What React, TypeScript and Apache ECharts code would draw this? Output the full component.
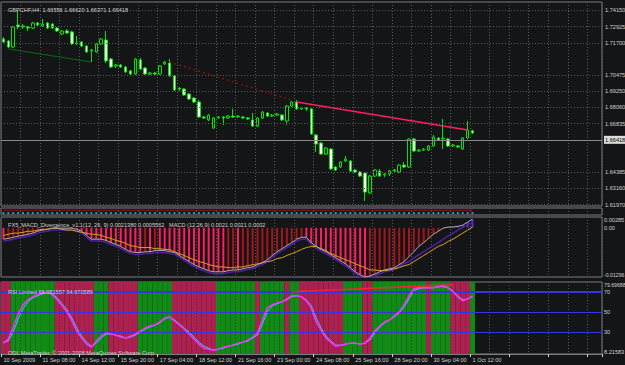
import React, { useEffect, useRef } from 'react';
import * as echarts from 'echarts';

const SYMBOL = 'GBPCHF,H4';

// [open, close, low, high] for each H4 bar
const candles: number[][] = [
  [1.7223, 1.7205, 1.7199, 1.7235], [1.7211, 1.7174, 1.7168, 1.7217], [1.7174, 1.7298, 1.7168, 1.7304], [1.7310, 1.7298, 1.7285, 1.7397], [1.7304, 1.7298, 1.7285, 1.7316],
  [1.7298, 1.7291, 1.7273, 1.7304], [1.7291, 1.7322, 1.7285, 1.7329], [1.7322, 1.7310, 1.7304, 1.7329], [1.7304, 1.7316, 1.7298, 1.7347], [1.7322, 1.7291, 1.7285, 1.7329],
  [1.7316, 1.7291, 1.7285, 1.7322], [1.7291, 1.7273, 1.7267, 1.7298], [1.7254, 1.7273, 1.7248, 1.7279], [1.7273, 1.7261, 1.7254, 1.7285], [1.7267, 1.7193, 1.7186, 1.7273],
  [1.7193, 1.7199, 1.7186, 1.7242], [1.7205, 1.7180, 1.7174, 1.7211], [1.7180, 1.7143, 1.7137, 1.7186], [1.7149, 1.7155, 1.7081, 1.7162], [1.7143, 1.7193, 1.7137, 1.7199],
  [1.7193, 1.7223, 1.7186, 1.7229], [1.7217, 1.7088, 1.7075, 1.7273], [1.7100, 1.7050, 1.7044, 1.7106], [1.7057, 1.7063, 1.7044, 1.7069], [1.7063, 1.7050, 1.7044, 1.7069],
  [1.7050, 1.7020, 1.7013, 1.7057], [1.7026, 1.7007, 1.7001, 1.7032], [1.7007, 1.7100, 1.7001, 1.7106], [1.7094, 1.7038, 1.7032, 1.7106], [1.7044, 1.7007, 1.7001, 1.7050],
  [1.7007, 1.7013, 1.7001, 1.7020], [1.7013, 1.7007, 1.7001, 1.7020], [1.7007, 1.7057, 1.7001, 1.7063], [1.7069, 1.7081, 1.7063, 1.7088], [1.7075, 1.6995, 1.6988, 1.7100],
  [1.6995, 1.6908, 1.6902, 1.7001], [1.6920, 1.6914, 1.6902, 1.6926], [1.6914, 1.6877, 1.6871, 1.6920], [1.6883, 1.6852, 1.6846, 1.6889], [1.6858, 1.6834, 1.6828, 1.6865],
  [1.6834, 1.6741, 1.6735, 1.6846], [1.6741, 1.6735, 1.6729, 1.6747], [1.6723, 1.6753, 1.6716, 1.6760], [1.6673, 1.6735, 1.6667, 1.6741], [1.6735, 1.6741, 1.6729, 1.6747],
  [1.6741, 1.6735, 1.6692, 1.6747], [1.6735, 1.6747, 1.6729, 1.6753], [1.6747, 1.6741, 1.6735, 1.6791], [1.6741, 1.6747, 1.6735, 1.6753], [1.6741, 1.6735, 1.6729, 1.6747],
  [1.6735, 1.6729, 1.6723, 1.6741], [1.6723, 1.6685, 1.6679, 1.6766], [1.6685, 1.6735, 1.6679, 1.6741], [1.6735, 1.6772, 1.6729, 1.6779], [1.6766, 1.6747, 1.6741, 1.6772],
  [1.6747, 1.6753, 1.6741, 1.6760], [1.6753, 1.6760, 1.6747, 1.6766], [1.6753, 1.6723, 1.6716, 1.6760], [1.6716, 1.6809, 1.6692, 1.6815], [1.6809, 1.6834, 1.6803, 1.6840],
  [1.6834, 1.6791, 1.6785, 1.6846], [1.6791, 1.6797, 1.6785, 1.6803], [1.6797, 1.6791, 1.6779, 1.6803], [1.6791, 1.6636, 1.6630, 1.6797], [1.6630, 1.6574, 1.6525, 1.6636],
  [1.6580, 1.6512, 1.6506, 1.6587], [1.6512, 1.6549, 1.6506, 1.6556], [1.6543, 1.6420, 1.6413, 1.6549], [1.6432, 1.6413, 1.6407, 1.6438], [1.6432, 1.6463, 1.6426, 1.6469],
  [1.6469, 1.6481, 1.6463, 1.6500], [1.6469, 1.6407, 1.6401, 1.6475], [1.6413, 1.6401, 1.6395, 1.6420], [1.6401, 1.6376, 1.6370, 1.6407], [1.6395, 1.6277, 1.6222, 1.6401],
  [1.6271, 1.6376, 1.6265, 1.6383], [1.6376, 1.6413, 1.6370, 1.6420], [1.6407, 1.6376, 1.6370, 1.6420], [1.6383, 1.6389, 1.6370, 1.6395], [1.6389, 1.6407, 1.6376, 1.6413],
  [1.6407, 1.6413, 1.6401, 1.6420], [1.6401, 1.6444, 1.6395, 1.6450], [1.6444, 1.6432, 1.6426, 1.6463], [1.6432, 1.6605, 1.6426, 1.6611], [1.6605, 1.6531, 1.6525, 1.6611],
  [1.6531, 1.6537, 1.6525, 1.6543], [1.6537, 1.6543, 1.6531, 1.6549], [1.6537, 1.6562, 1.6531, 1.6568], [1.6562, 1.6617, 1.6556, 1.6630], [1.6611, 1.6599, 1.6593, 1.6617],
  [1.6605, 1.6611, 1.6543, 1.6729], [1.6605, 1.6562, 1.6556, 1.6611], [1.6562, 1.6568, 1.6556, 1.6574], [1.6562, 1.6556, 1.6549, 1.6568], [1.6543, 1.6611, 1.6537, 1.6617],
  [1.6611, 1.6661, 1.6605, 1.6716], [1.66556, 1.66418, 1.66371, 1.66620],
];

const priceTicks = [1.7415, 1.72925, 1.717, 1.70475, 1.6925, 1.6806, 1.66835, 1.6561, 1.64385, 1.6316, 1.6197];
const priceTickLabels = ['1.74150', '1.72925', '1.71700', '1.70475', '1.69250', '1.68060', '1.66835', '1.65610', '1.64385', '1.63160', '1.61970'];
const currentPrice = 1.66418;

const greenTrend = [[1, 1.7162], [18, 1.7081]];
const redDottedTrend = [[34, 1.7081], [59, 1.6846]];
const pinkTrend = [[60, 1.6834], [95, 1.6661]];

const xLabels = ['10 Sep 2009', '11 Sep 08:00', '14 Sep 12:00', '15 Sep 20:00', '17 Sep 04:00', '18 Sep 12:00', '21 Sep 16:00', '23 Sep 00:00', '24 Sep 08:00', '25 Sep 16:00', '28 Sep 20:00', '30 Sep 04:00', '1 Oct 12:00'];

const macdMain = [
  -0.0030, -0.0028, -0.0025, -0.0022, -0.0020, -0.0017, -0.0014, -0.0009, -0.0006, -0.0004,
  -0.0001, -0.0001, -0.0001, -0.0001, -0.0001, -0.0004, -0.0009, -0.0020, -0.0030, -0.0030,
  -0.0030, -0.0033, -0.0039, -0.0044, -0.0049, -0.0057, -0.0063, -0.0065, -0.0065, -0.0063,
  -0.0063, -0.0060, -0.0060, -0.0060, -0.0063, -0.0065, -0.0073, -0.0081, -0.0089, -0.0097,
  -0.0103, -0.0108, -0.0113, -0.0116, -0.0116, -0.0116, -0.0113, -0.0111, -0.0111, -0.0108,
  -0.0105, -0.0103, -0.0097, -0.0092, -0.0084, -0.0073, -0.0063, -0.0055, -0.0047, -0.0039,
  -0.0030, -0.0025, -0.0025, -0.0039, -0.0049, -0.0057, -0.0063, -0.0071, -0.0079, -0.0087,
  -0.0095, -0.0105, -0.0116, -0.0124, -0.0130, -0.0127, -0.0122, -0.0116, -0.0111, -0.0108,
  -0.0105, -0.0097, -0.0089, -0.0076, -0.0063, -0.0049, -0.0039, -0.0028, -0.0017, -0.0009,
  -0.0001, 0.0002, 0.0002, 0.0004, 0.0007, 0.0015, 0.0023,
];
const macdSignal = [
  -0.0020, -0.0017, -0.0014, -0.0014, -0.0012, -0.0009, -0.0009, -0.0006, -0.0004, -0.0004,
  -0.0001, -0.0001, -0.0004, -0.0006, -0.0006, -0.0009, -0.0012, -0.0014, -0.0017, -0.0017,
  -0.0020, -0.0025, -0.0028, -0.0033, -0.0036, -0.0041, -0.0047, -0.0049, -0.0052, -0.0052,
  -0.0052, -0.0055, -0.0055, -0.0057, -0.0057, -0.0063, -0.0068, -0.0073, -0.0079, -0.0084,
  -0.0089, -0.0092, -0.0097, -0.0100, -0.0103, -0.0103, -0.0105, -0.0105, -0.0103, -0.0103,
  -0.0100, -0.0097, -0.0095, -0.0092, -0.0089, -0.0087, -0.0081, -0.0079, -0.0073, -0.0068,
  -0.0063, -0.0057, -0.0052, -0.0049, -0.0049, -0.0055, -0.0060, -0.0068, -0.0073, -0.0079,
  -0.0084, -0.0089, -0.0095, -0.0100, -0.0105, -0.0111, -0.0111, -0.0113, -0.0113, -0.0111,
  -0.0108, -0.0105, -0.0100, -0.0097, -0.0089, -0.0081, -0.0073, -0.0065, -0.0057, -0.0049,
  -0.0044, -0.0036, -0.0030, -0.0022, -0.0014, -0.0006, 0.0002,
];
const macdSlow = [
  -0.0035, -0.0033, -0.0030, -0.0027, -0.0025, -0.0022, -0.0019, -0.0014, -0.0011, -0.0009,
  -0.0006, -0.0006, -0.0006, -0.0006, -0.0006, -0.0009, -0.0014, -0.0025, -0.0035, -0.0035,
  -0.0035, -0.0038, -0.0044, -0.0049, -0.0054, -0.0062, -0.0068, -0.0070, -0.0070, -0.0068,
  -0.0068, -0.0065, -0.0065, -0.0065, -0.0068, -0.0070, -0.0078, -0.0086, -0.0094, -0.0102,
  -0.0108, -0.0113, -0.0118, -0.0121, -0.0121, -0.0121, -0.0118, -0.0116, -0.0116, -0.0113,
  -0.0110, -0.0108, -0.0102, -0.0097, -0.0089, -0.0078, -0.0068, -0.0060, -0.0052, -0.0044,
  -0.0035, -0.0030, -0.0030, -0.0044, -0.0054, -0.0062, -0.0068, -0.0076, -0.0084, -0.0092,
  -0.0100, -0.0110, -0.0121, -0.0129, -0.0135, -0.0132, -0.0127, -0.0121, -0.0116, -0.0113,
  -0.0110, -0.0102, -0.0094, -0.0089, -0.0079, -0.0071, -0.0063, -0.0055, -0.0047, -0.0039,
  -0.0030, -0.0022, -0.0014, -0.0006, 0.0002, 0.0007, 0.0015,
];
const macdTicks = [0.00285, 0, -0.01296];
const macdTickLabels = ['0.00285', '0.00', '-0.01296'];

const rsiMain = [
  19, 23, 35, 48, 57, 62, 65, 67, 69, 70,
  67, 62, 56, 50, 41, 31, 24, 18, 15, 21,
  26, 29, 28, 27, 25, 24, 26, 28, 31, 34,
  36, 37, 40, 44, 45, 41, 37, 33, 28, 23,
  18, 14, 13, 12, 13, 15, 16, 17, 19, 20,
  22, 25, 29, 42, 54, 57, 59, 60, 63, 66,
  66, 65, 61, 54, 40, 32, 24, 20, 16, 17,
  18, 19, 19, 18, 19, 24, 31, 36, 40, 42,
  46, 50, 57, 66, 73, 74, 74, 74, 74, 75,
  76, 74, 70, 65, 61, 63, 66,
];
const rsiSignal = [
  20, 21, 30, 43, 53, 60, 64, 66, 68, 69,
  68, 64, 58, 52, 44, 34, 26, 20, 16, 19,
  24, 28, 28, 27, 26, 24, 25, 27, 30, 33,
  35, 37, 39, 43, 45, 42, 38, 34, 30, 25,
  20, 16, 14, 12, 13, 14, 16, 17, 18, 20,
  21, 24, 27, 38, 50, 56, 58, 60, 62, 65,
  66, 65, 62, 56, 44, 34, 26, 21, 17, 17,
  18, 19, 19, 18, 19, 22, 29, 35, 39, 42,
  45, 49, 55, 63, 71, 73, 74, 74, 74, 75,
  75, 74, 71, 66, 62, 63, 65,
];
// 1 = green (up) background, 0 = crimson (down) background
const trendState = [
  0, 0, 1, 1, 1, 1, 1, 1, 1, 1,
  1, 0, 0, 0, 0, 0, 0, 0, 0, 1,
  1, 1, 0, 0, 0, 0, 0, 0, 1, 1,
  1, 1, 1, 1, 1, 0, 0, 0, 0, 0,
  0, 0, 0, 0, 1, 1, 1, 1, 1, 1,
  1, 1, 0, 1, 1, 1, 1, 1, 0, 1,
  1, 0, 0, 0, 0, 0, 0, 0, 0, 0,
  1, 1, 1, 1, 0, 0, 1, 1, 1, 1,
  1, 1, 1, 1, 1, 1, 1, 0, 1, 1,
  1, 1, 0, 0, 0, 0, 1,
];
const rsiTicks = [79.69688, 70, 50, 30, 8.21583];
const rsiTickLabels = ['79.69688', '70', '50', '30', '8.21583'];
const rsiLevels = [70, 50, 30];
const rsiRedTrend = [[59, 70], [92, 77]];

const macdTitle = 'FX5_MACD_Divergence_v1.1(12, 26, 9) 0.0021380 0.0005562   MACD (12,26,9) 0.0021 0.0021 0.0002';
const rsiTitle = 'RSI Limited 66.081557 64.670589';
const copyright = 'ODL MetaTrader, \u00a9 2001-2008 MetaQuotes Software Corp.';

const SLOTS = 123;

export default function App() {
  const ref = useRef<HTMLDivElement>(null);
  useEffect(() => {
    if (!ref.current) return;
    const chart = echarts.init(ref.current, undefined, { renderer: 'svg' });
    const BG = '#131517';
    const BORDER = '#7a7d80';
    const GRIDC = '#585c60';
    const TXT = '#d2d2d2';
    const LIME = '#00e400';
    const FS = 5.6;
    const FONT = 'Liberation Sans';
    const cats = Array.from({ length: SLOTS }, (_, i) => String(i));
    const last = candles[candles.length - 1];
    const f5 = (v: number) => v.toFixed(5);
    const head = `${SYMBOL}  ${f5(last[0])} ${f5(last[3])} ${f5(last[2])} ${f5(last[1])}`;

    const gridBase = { left: 1, right: 23, show: true, borderColor: BORDER, borderWidth: 1, backgroundColor: 'transparent' };
    const split = { show: true, interval: 3, lineStyle: { color: GRIDC, type: [1, 2], width: 1 } };
    const labelStyle = { color: TXT, fontSize: FS, fontFamily: FONT };
    const seg = (pts: number[][], style: any) => [
      { coord: pts[0], lineStyle: style },
      { coord: pts[1], lineStyle: style },
    ];

    chart.setOption({
      animation: false,
      backgroundColor: BG,
      textStyle: { fontFamily: FONT },
      title: [
        { text: head, left: 3, top: 2, textStyle: { ...labelStyle, fontWeight: 'normal' } },
        { text: macdTitle, left: 3, top: 217, textStyle: { ...labelStyle, fontWeight: 'normal' } },
        { text: rsiTitle, left: 3, top: 284, textStyle: { ...labelStyle, fontWeight: 'normal' } },
        { text: copyright, left: 3, top: 345, textStyle: { ...labelStyle, fontWeight: 'normal' } },
      ],
      grid: [
        { ...gridBase, top: 2, height: 204 },
        { ...gridBase, top: 208, height: 7 },
        { ...gridBase, top: 217, height: 60 },
        { ...gridBase, top: 282, height: 72 },
      ],
      xAxis: [0, 1, 2, 3].map((i) => ({
        type: 'category',
        gridIndex: i,
        data: cats,
        boundaryGap: true,
        axisLine: { show: i === 3, lineStyle: { color: BORDER } },
        axisTick: { show: i === 3, interval: 7, length: 3, lineStyle: { color: TXT } },
        axisLabel:
          i === 3
            ? {
                show: true,
                interval: 7,
                align: 'left',
                margin: 3,
                ...labelStyle,
                formatter: (_v: string, idx: number) => xLabels[idx / 8] ?? '',
              }
            : { show: false },
        splitLine: split,
      })),
      yAxis: [
        { gridIndex: 0, min: 1.6191, max: 1.7452, show: false },
        { gridIndex: 1, min: -1, max: 1, show: false },
        { gridIndex: 2, min: -0.01296, max: 0.00285, show: false },
        { gridIndex: 3, min: 8.21583, max: 79.69688, show: false },
      ],
      series: [
        {
          type: 'line',
          xAxisIndex: 0,
          yAxisIndex: 0,
          data: candles.map((c) => c[1]),
          symbol: 'none',
          lineStyle: { opacity: 0 },
          silent: true,
          clip: false,
          z: 1,
          markLine: {
            silent: true,
            symbol: ['none', 'none'],
            label: { show: true, position: 'end', distance: 3, ...labelStyle },
            data: priceTicks.map((v, i) => ({
              yAxis: v,
              lineStyle: { color: GRIDC, type: [1, 2], width: 1 },
              label: { formatter: priceTickLabels[i] },
            })),
          },
        },
        {
          type: 'candlestick',
          xAxisIndex: 0,
          yAxisIndex: 0,
          data: candles,
          barWidth: 3,
          z: 3,
          itemStyle: { color: BG, color0: '#ffffff', borderColor: LIME, borderColor0: LIME, borderWidth: 1 },
          markLine: {
            silent: true,
            symbol: ['none', 'none'],
            label: { show: false },
            data: [
              seg(greenTrend, { color: '#0d6b12', width: 1, type: 'solid' }),
              seg(redDottedTrend, { color: '#8e1010', width: 1.5, type: [2, 3] }),
              seg(pinkTrend, { color: '#ff1f5e', width: 1.5, type: 'solid' }),
              {
                yAxis: currentPrice,
                lineStyle: { color: '#8a8a8a', width: 1, type: 'solid' },
                label: {
                  show: true,
                  position: 'end',
                  distance: 2,
                  formatter: f5(currentPrice),
                  color: '#000000',
                  backgroundColor: '#dcdcdc',
                  padding: [1, 1],
                  fontSize: FS,
                  fontFamily: FONT,
                },
              },
            ],
          },
        },
        {
          type: 'line',
          xAxisIndex: 1,
          yAxisIndex: 1,
          data: candles.map(() => 0.35),
          symbol: 'none',
          lineStyle: { color: '#a01414', width: 1 },
          silent: true,
        },
        {
          type: 'scatter',
          xAxisIndex: 1,
          yAxisIndex: 1,
          data: candles.map((_, i) => [i, -0.45]),
          symbol: 'rect',
          symbolSize: [2, 2],
          itemStyle: { color: '#19c8e6' },
          silent: true,
        },
        {
          type: 'bar',
          xAxisIndex: 2,
          yAxisIndex: 2,
          barWidth: 2,
          data: macdMain.map((v, i) => ({
            value: v,
            itemStyle: {
              color: v >= 0 ? '#5b2bc2' : i === 0 || v <= macdMain[i - 1] ? '#ff1f5e' : '#a3161c',
            },
          })),
          silent: true,
          z: 2,
        },
        {
          type: 'line',
          xAxisIndex: 2,
          yAxisIndex: 2,
          data: macdSlow,
          symbol: 'none',
          lineStyle: { color: '#4e1fa6', width: 1.5 },
          silent: true,
          z: 3,
        },
        {
          type: 'line',
          xAxisIndex: 2,
          yAxisIndex: 2,
          data: macdSignal,
          symbol: 'none',
          lineStyle: { color: '#e0a216', width: 1 },
          silent: true,
          z: 4,
        },
        {
          type: 'line',
          xAxisIndex: 2,
          yAxisIndex: 2,
          data: macdMain,
          symbol: 'none',
          lineStyle: { color: '#b0b0b0', width: 1 },
          silent: true,
          z: 5,
        },
        {
          type: 'bar',
          xAxisIndex: 3,
          yAxisIndex: 3,
          barCategoryGap: '0%',
          data: trendState.map((s) => ({ value: 79.69688, itemStyle: { color: s ? '#128a16' : '#ad2150' } })),
          silent: true,
          z: 1,
        },
        {
          type: 'line',
          xAxisIndex: 3,
          yAxisIndex: 3,
          data: rsiSignal,
          symbol: 'none',
          lineStyle: { color: '#22d8f0', width: 1 },
          silent: true,
          z: 4,
          markLine: {
            silent: true,
            symbol: ['none', 'none'],
            label: { show: false },
            data: rsiLevels.map((v) => ({
              yAxis: v,
              lineStyle: { color: '#3636e0', width: v === 70 ? 2 : 1, type: 'solid' },
            })),
          },
        },
        {
          type: 'line',
          xAxisIndex: 3,
          yAxisIndex: 3,
          data: rsiMain,
          symbol: 'none',
          lineStyle: { color: '#ff2cff', width: 1.5 },
          silent: true,
          z: 5,
          markLine: {
            silent: true,
            symbol: ['none', 'none'],
            label: { show: false },
            data: [seg(rsiRedTrend, { color: '#ff1f3a', width: 1.5, type: 'solid' })],
          },
        },
      ],
    });

    // right-hand scale labels of the MACD and RSI panes, placed through the panes' own y scales
    const scaleTexts: any[] = [];
    const addScale = (axisIdx: number, values: number[], labels: string[]) => {
      values.forEach((v, i) => {
        const py = chart.convertToPixel({ yAxisIndex: axisIdx }, v) as number;
        const shift = i === 0 ? 3 : i === values.length - 1 ? -2 : 0;
        scaleTexts.push({
          type: 'text',
          x: 604,
          y: py + shift,
          silent: true,
          z: 10,
          style: {
            text: labels[i],
            fill: TXT,
            fontSize: labels[i].length > 7 ? 5.2 : FS,
            fontFamily: FONT,
            align: 'left',
            verticalAlign: 'middle',
          },
        });
      });
    };
    addScale(2, macdTicks, macdTickLabels);
    addScale(3, rsiTicks, rsiTickLabels);
    chart.setOption({ graphic: scaleTexts });

    return () => chart.dispose();
  }, []);
  return (
    <div
      ref={ref}
      style={{ position: 'fixed', left: 0, top: 0, width: 625, height: 365, background: '#131517' }}
    />
  );
}
